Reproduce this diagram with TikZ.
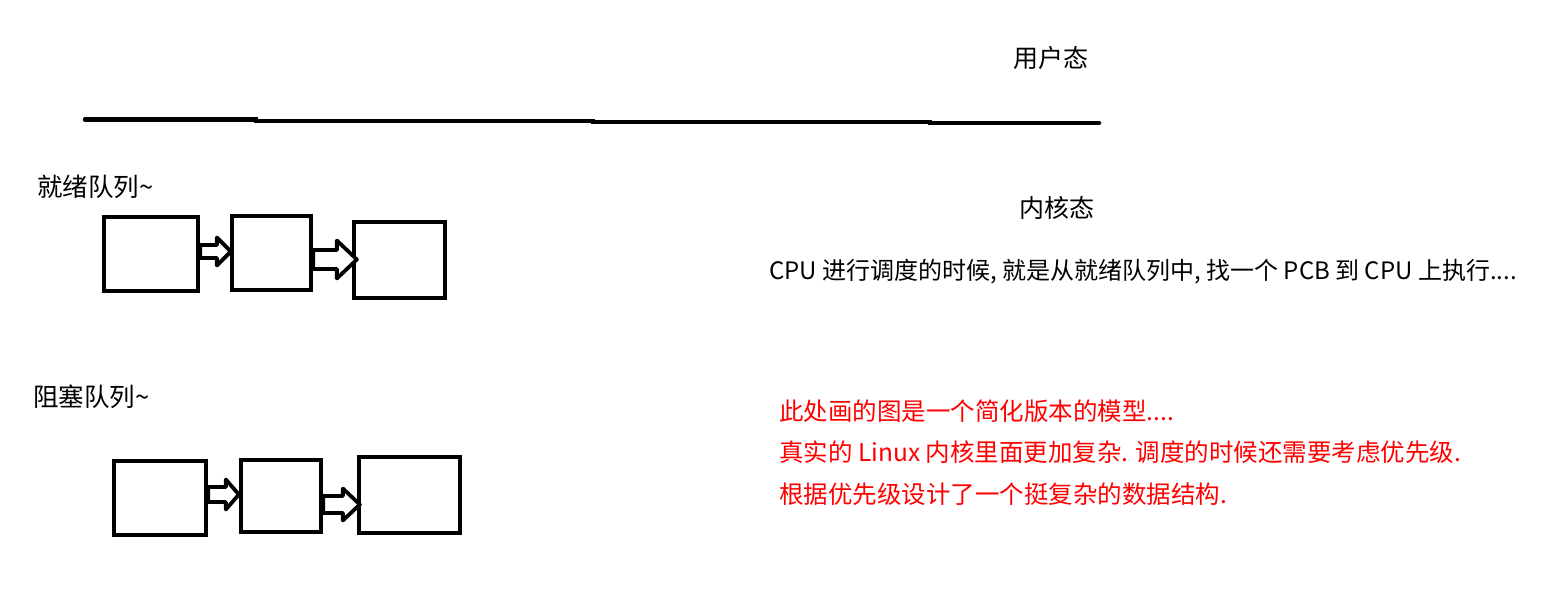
\documentclass[tikz,border=0pt]{standalone}
\usepackage{fontspec}
\setmainfont{Noto Sans CJK SC}
\usetikzlibrary{calc}
\tikzset{
  pcb/.style={draw=black, line width=4.3pt, fill=white, inner sep=0pt},
  blockarrow/.style={draw=black, line width=3.8pt, fill=white, line join=round},
  divider/.style={draw=black, line width=4.5pt, line cap=round},
  lbl/.style={inner sep=0pt, font=\fontsize{25}{29}\selectfont, text=black},
  note/.style={inner sep=0pt, anchor=west, font=\fontsize{24.5}{28}\selectfont},
}
\newcommand{\blockarr}[5]{%
  % #1 start coord, #2 tip coord, #3 shaft half height, #4 head half height, #5 head length
  \coordinate (#1-s) at (#1 |- #2);
  \draw[blockarrow] ($(#1-s)+(0,-#3)$) -- ($(#2)+(-#5,-#3)$) -- ($(#2)+(-#5,-#4)$) -- (#2)
    -- ($(#2)+(-#5,#4)$) -- ($(#2)+(-#5,#3)$) -- ($(#1-s)+(0,#3)$) -- cycle;
}
\begin{document}
\begin{tikzpicture}[x=1pt, y=-1pt]
\useasboundingbox (0,0) rectangle (1551,615);
\fill[white] (0,0) rectangle (1551,615);

% divider line between user mode and kernel mode
\draw[divider] (85,119.5) -- (256,119.5) -- (256,121) -- (593,121) -- (593,122) -- (930,122) -- (930,123) -- (1099,123);

\node[lbl] (user) at (1051,58) {用户态};
\node[lbl] (kernel) at (1057,208) {内核态};
\node[lbl, anchor=west, font=\fontsize{25.5}{29}\selectfont] (ready) at (37,187) {就绪队列\char"007E};
\node[lbl, anchor=west, font=\fontsize{25.5}{29}\selectfont] (block) at (33,397) {阻塞队列\char"007E};

% ready queue
\node[pcb, minimum width=94pt, minimum height=74pt] (a) at (151,254) {};
\node[pcb, minimum width=79pt, minimum height=74pt] (b) at (271.5,253) {};
\node[pcb, minimum width=91pt, minimum height=76pt] (c) at (399.5,260) {};
% blocked queue
\node[pcb, minimum width=92pt, minimum height=74pt] (d) at (160,498) {};
\node[pcb, minimum width=80pt, minimum height=72pt] (e) at (281,496) {};
\node[pcb, minimum width=101pt, minimum height=76pt] (f) at (409.5,495) {};

\coordinate (t1) at ($(b.west)+(1,-1.5)$);
\coordinate (t2) at ($(c.west)+(5,-0.5)$);
\coordinate (t3) at ($(e.west)+(0,-1.5)$);
\coordinate (t4) at ($(f.west)+(3,9.5)$);
\coordinate (a-e) at (a.east);
\coordinate (b-e) at (b.east);
\coordinate (d-e) at (d.east);
\coordinate (e-e) at (e.east);
\blockarr{a-e}{t1}{6.5}{14}{14}
\blockarr{b-e}{t2}{9.5}{19}{20}
\blockarr{d-e}{t3}{7.5}{15}{13}
\blockarr{e-e}{t4}{8.5}{16}{17}

\node[note, text=black, font=\fontsize{24}{28}\selectfont] (cpu) at (769,272) {CPU 进行调度的时候, 就是从就绪队列中, 找一个 PCB 到 CPU 上执行....};
\node[note, text=red] (r1) at (779,411) {此处画的图是一个简化版本的模型....};
\node[note, text=red] (r2) at (779,452) {真实的 Linux 内核里面更加复杂. 调度的时候还需要考虑优先级.};
\node[note, text=red] (r3) at (779,494) {根据优先级设计了一个挺复杂的数据结构.};
\end{tikzpicture}
\end{document}
